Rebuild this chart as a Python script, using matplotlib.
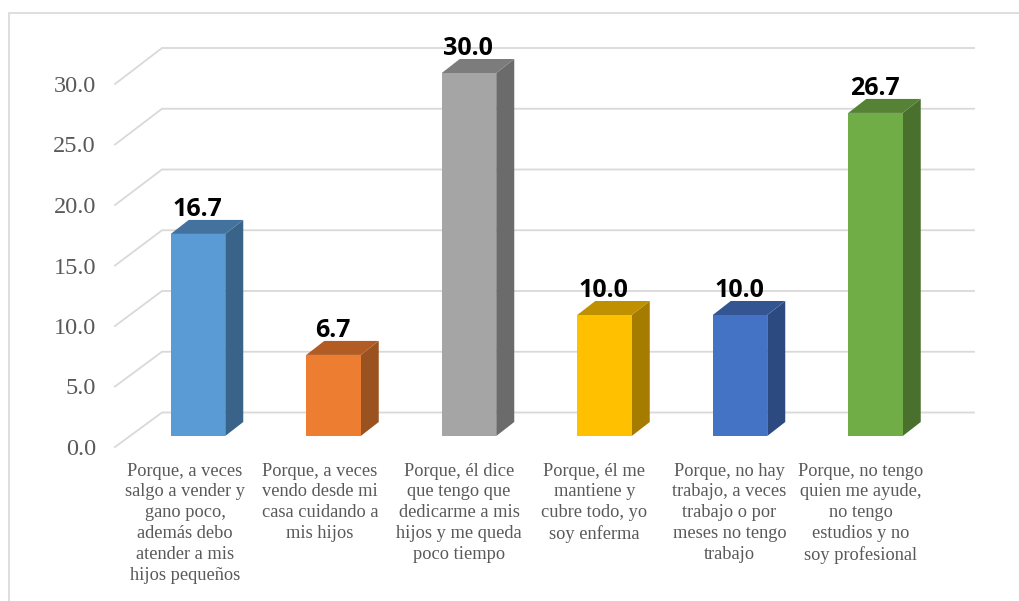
import matplotlib
matplotlib.use("Agg")
import matplotlib.pyplot as plt
from matplotlib.patches import Polygon

categories = [
    "Porque, a veces\nsalgo a vender y\ngano poco,\nademás debo\natender a mis\nhijos pequeños",
    "Porque, a veces\nvendo desde mi\ncasa cuidando a\nmis hijos",
    "Porque, él dice\nque tengo que\ndedicarme a mis\nhijos y me queda\npoco tiempo",
    "Porque, él me\nmantiene y\ncubre todo, yo\nsoy enferma",
    "Porque, no hay\ntrabajo, a veces\ntrabajo o por\nmeses no tengo\ntrabajo",
    "Porque, no tengo\nquien me ayude,\nno tengo\nestudios y no\nsoy profesional",
]
values = [16.7, 6.7, 30.0, 10.0, 10.0, 26.7]
ticks = [0, 5, 10, 15, 20, 25, 30]
front_colors = ["#5B9BD5", "#ED7D31", "#A5A5A5", "#FFC000", "#4472C4", "#70AD47"]
side_colors = ["#3A638A", "#9A5220", "#6B6B6B", "#A67C00", "#2C4A80", "#4A702E"]
top_colors = ["#44729F", "#B25C24", "#7C7C7C", "#BF9000", "#335693", "#558235"]
label_shift_px = [-13, -13.6, -10, -10, -10.5, -15]

W, H = 1020, 601
X0, STEP = 198.0, 135.5      # pixel of first bar, pixels per category
Y0, UNIT = 436.0, 12.1       # pixel of value 0, pixels per unit
DX, DY = 18 / STEP, 14 / UNIT
BAR_W = 54.5 / STEP
WALL_SCALE = 12.15 / UNIT

fig = plt.figure(figsize=(W / 100, H / 100), dpi=100)
ax = fig.add_axes([0, 0, 1, 1])
ax.set_xlim(-X0 / STEP, (W - X0) / STEP)
ax.set_ylim((Y0 - H) / UNIT, Y0 / UNIT)
ax.axis("off")

GRID = "#D9D9D9"
px = lambda p: (p - X0) / STEP

# Chart frame
ax.plot([px(9), px(9), px(1019)], [(Y0 - 601) / UNIT, (Y0 - 13) / UNIT, (Y0 - 13) / UNIT],
        color=GRID, lw=1.2, zorder=1, solid_joinstyle="miter")

# Floor and back-wall gridlines
for t in ticks:
    y_back = t * WALL_SCALE + 23.5 / UNIT
    y_front = t - 11 / UNIT
    ax.plot([px(115), px(162), px(974)], [y_front, y_back, y_back],
            color=GRID, lw=1.3, zorder=1, solid_joinstyle="miter")
    ax.text(px(96), t - 11 / UNIT, f"{t:.1f}", ha="right", va="center_baseline",
            family="Liberation Serif", fontsize=17.5, color="#595959")

# Bars
xs = list(range(len(values)))
ax.bar(xs, values, width=BAR_W, color=front_colors, zorder=4)
for x, v, sc, tc in zip(xs, values, side_colors, top_colors):
    l, r = x - BAR_W / 2, x + BAR_W / 2
    ax.add_patch(Polygon([(r, 0), (r + DX, DY), (r + DX, v + DY), (r, v)],
                         closed=True, fc=sc, ec="none", zorder=3))
    ax.add_patch(Polygon([(l, v), (r, v), (r + DX, v + DY), (l + DX, v + DY)],
                         closed=True, fc=tc, ec="none", zorder=3))
    ax.text(x - 1 / STEP, v + 27.5 / UNIT, f"{v:.1f}", ha="center", va="center_baseline",
            family="Open Sans", fontweight="bold", fontsize=18, color="black", zorder=5)

# Category labels
for x, c, s in zip(xs, categories, label_shift_px):
    ax.text(x + s / STEP, (Y0 - 462.5) / UNIT, c, ha="center", va="top", multialignment="center",
            family="Liberation Serif", fontsize=13.2, color="#595959", linespacing=1.30)

fig.savefig("out.png", dpi=100)
